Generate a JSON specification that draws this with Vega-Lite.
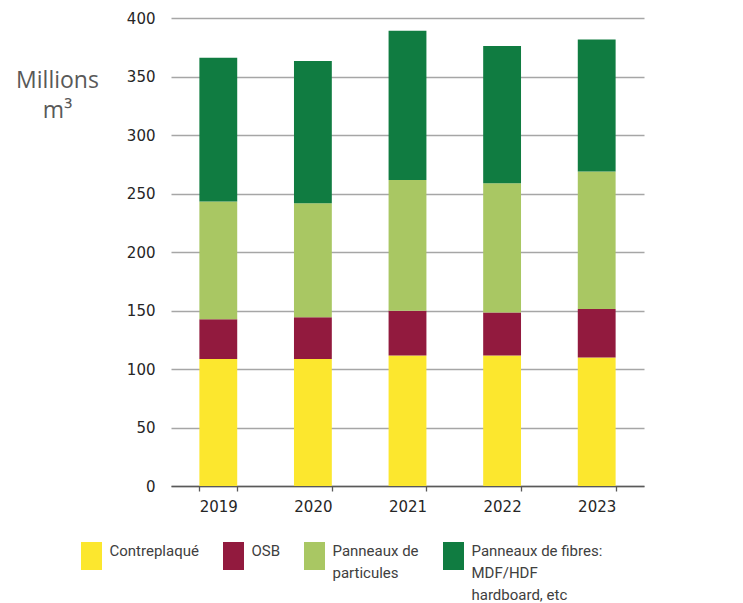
{
  "$schema": "https://vega.github.io/schema/vega-lite/v6.json",
  "width": 473,
  "height": 468,
  "autosize": {"type": "none"},
  "padding": {"left": 171, "top": 18, "right": 99, "bottom": 117},
  "config": {"view": {"stroke": null}, "font": "DejaVu Sans", "style": {"guide-label": {"lineHeight": 22}}},
  "data": {
    "values": [
      {"year": "2019", "type": "Contreplaqué", "order": 1, "value": 108.5},
      {"year": "2019", "type": "OSB", "order": 2, "value": 34.1},
      {"year": "2019", "type": "Panneaux de particules", "order": 3, "value": 100.5},
      {"year": "2019", "type": "Panneaux de fibres: MDF/HDF hardboard, etc", "order": 4, "value": 122.9},
      {"year": "2020", "type": "Contreplaqué", "order": 1, "value": 108.5},
      {"year": "2020", "type": "OSB", "order": 2, "value": 35.8},
      {"year": "2020", "type": "Panneaux de particules", "order": 3, "value": 97.4},
      {"year": "2020", "type": "Panneaux de fibres: MDF/HDF hardboard, etc", "order": 4, "value": 121.6},
      {"year": "2021", "type": "Contreplaqué", "order": 1, "value": 111.6},
      {"year": "2021", "type": "OSB", "order": 2, "value": 38.2},
      {"year": "2021", "type": "Panneaux de particules", "order": 3, "value": 111.8},
      {"year": "2021", "type": "Panneaux de fibres: MDF/HDF hardboard, etc", "order": 4, "value": 127.4},
      {"year": "2022", "type": "Contreplaqué", "order": 1, "value": 111.6},
      {"year": "2022", "type": "OSB", "order": 2, "value": 36.7},
      {"year": "2022", "type": "Panneaux de particules", "order": 3, "value": 110.5},
      {"year": "2022", "type": "Panneaux de fibres: MDF/HDF hardboard, etc", "order": 4, "value": 117.2},
      {"year": "2023", "type": "Contreplaqué", "order": 1, "value": 109.9},
      {"year": "2023", "type": "OSB", "order": 2, "value": 41.3},
      {"year": "2023", "type": "Panneaux de particules", "order": 3, "value": 117.5},
      {"year": "2023", "type": "Panneaux de fibres: MDF/HDF hardboard, etc", "order": 4, "value": 113.0}
    ]
  },
  "mark": {"type": "bar"},
  "encoding": {
    "x": {
      "field": "year",
      "type": "ordinal",
      "scale": {"paddingInner": 0.6, "paddingOuter": 0.3},
      "axis": {
        "title": null,
        "labelAngle": 0,
        "domainColor": "#595959",
        "domainWidth": 1.3,
        "tickColor": "#595959",
        "tickWidth": 1.3,
        "tickBand": "extent",
        "tickSize": 5,
        "labelFont": "DejaVu Sans",
        "labelFontSize": 15,
        "labelColor": "#262626",
        "labelPadding": 8
      }
    },
    "y": {
      "field": "value",
      "type": "quantitative",
      "stack": "zero",
      "scale": {"domain": [0, 400]},
      "axis": {
        "values": [0, 50, 100, 150, 200, 250, 300, 350, 400],
        "title": ["Millions", "m³"],
        "titleAngle": 0,
        "titleX": -114,
        "titleY": 69,
        "titleAlign": "center",
        "titleBaseline": "alphabetic",
        "titleFont": "Open Sans",
        "titleFontSize": 23,
        "titleFontWeight": "normal",
        "titleColor": "#595959",
        "titleLineHeight": 30,
        "domain": false,
        "ticks": false,
        "labelPadding": 16,
        "labelFont": "DejaVu Sans",
        "labelFontSize": 15,
        "labelColor": "#262626",
        "gridColor": "#a6a6a6",
        "gridWidth": 1.3
      }
    },
    "color": {
      "field": "type",
      "type": "nominal",
      "scale": {
        "domain": ["Contreplaqué", "OSB", "Panneaux de particules", "Panneaux de fibres: MDF/HDF hardboard, etc"],
        "range": ["#FCE72E", "#921A3E", "#A9C763", "#107C41"]
      },
      "legend": {
        "orient": "none",
        "legendX": -93.5,
        "legendY": 524,
        "direction": "horizontal",
        "columns": 4,
        "title": null,
        "padding": 0,
        "symbolType": "M-0.75,-1H0.75V1H-0.75Z",
        "symbolSize": 784,
        "symbolStrokeWidth": 0,
        "symbolOpacity": 1,
        "labelFont": "Roboto",
        "labelFontSize": 15,
        "labelColor": "#404040",
        "labelOffset": 4,
        "labelLimit": 300,
        "labelBaseline": "alphabetic",
        "columnPadding": 20,
        "encoding": {"labels": {"enter": {"lineHeight": {"value": 22}}, "update": {"lineHeight": {"value": 22}}}},
        "labelExpr": "datum.label == 'Panneaux de particules' ? ['Panneaux de', 'particules', ''] : datum.label == 'Panneaux de fibres: MDF/HDF hardboard, etc' ? ['Panneaux de fibres:', 'MDF/HDF', 'hardboard, etc'] : [datum.label, '', '']"
      }
    },
    "order": {"field": "order", "type": "quantitative"}
  }
}
